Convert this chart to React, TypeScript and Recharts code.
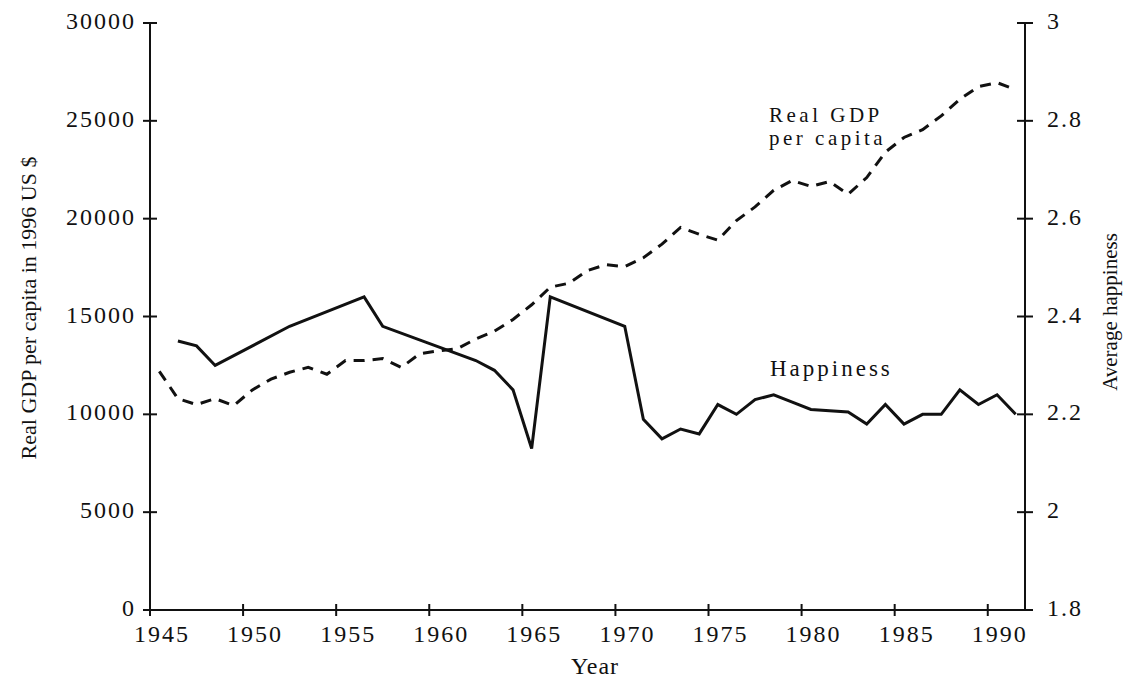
import React from 'react';
import { LineChart, Line, XAxis, YAxis, Customized } from 'recharts';

const years = [
  1945, 1946, 1947, 1948, 1949, 1950, 1951, 1952, 1953, 1954, 1955, 1956,
  1957, 1958, 1959, 1960, 1961, 1962, 1963, 1964, 1965, 1966, 1967, 1968,
  1969, 1970, 1971, 1972, 1973, 1974, 1975, 1976, 1977, 1978, 1979, 1980,
  1981, 1982, 1983, 1984, 1985, 1986, 1987, 1988, 1989, 1990, 1991,
];

// real GDP per capita, 1996 US $
const gdp = [
  12200, 10800, 10500, 10800, 10450, 11250, 11800, 12150, 12400, 12050, 12750, 12750,
  12850, 12400, 13100, 13250, 13350, 13850, 14250, 14850, 15600, 16500, 16700, 17350,
  17650, 17550, 18000, 18700, 19550, 19200, 18900, 19900, 20600, 21450, 21950, 21650,
  21900, 21250, 22100, 23400, 24150, 24550, 25250, 26100, 26750, 26950, 26600,
];

// average happiness (survey years only)
const happiness = [
  null, 2.35, 2.34, 2.3, null, null, null, 2.38, null, 2.41, null, 2.44,
  2.38, null, null, null, null, 2.31, 2.29, 2.25, 2.13, 2.44, null, null,
  null, 2.38, 2.19, 2.15, 2.17, 2.16, 2.22, 2.2, 2.23, 2.24, 2.225, 2.21,
  null, 2.205, 2.18, 2.22, 2.18, 2.2, 2.2, 2.25, 2.22, 2.24, 2.2,
];

const yearTicks = [1945, 1950, 1955, 1960, 1965, 1970, 1975, 1980, 1985, 1990];
const gdpTicks = [0, 5000, 10000, 15000, 20000, 25000, 30000];
const happinessTicks = [1.8, 2, 2.2, 2.4, 2.6, 2.8, 3];

// annual values are drawn at mid-year
const chartData = years.map((year, i) => ({
  x: year + 0.5,
  gdp: gdp[i],
  happiness: happiness[i],
}));

const SERIF = '"Liberation Serif", "Times New Roman", serif';
const INK = '#111';
const PLOT_LEFT = 150;
const PLOT_RIGHT = 1025;
const PLOT_BOTTOM = 610;

const LeftTick = ({ y, payload }: any) => (
  <g>
    <line x1={PLOT_LEFT - 7} x2={PLOT_LEFT + 7} y1={y} y2={y} stroke={INK} strokeWidth={2} />
    <text x={PLOT_LEFT - 14} y={y + 6} textAnchor="end" fontFamily={SERIF} fontSize={24} letterSpacing={2} fill={INK}>
      {payload.value}
    </text>
  </g>
);

const RightTick = ({ y, payload }: any) => (
  <g>
    <line x1={PLOT_RIGHT - 8} x2={PLOT_RIGHT + 8} y1={y} y2={y} stroke={INK} strokeWidth={2} />
    <text x={PLOT_RIGHT + 22} y={y + 6} textAnchor="start" fontFamily={SERIF} fontSize={24} letterSpacing={2} fill={INK}>
      {payload.value}
    </text>
  </g>
);

const BottomTick = ({ x, payload }: any) => (
  <g>
    <line x1={x} x2={x} y1={PLOT_BOTTOM - 6} y2={PLOT_BOTTOM + 6} stroke={INK} strokeWidth={2} />
    <text x={x + 12} y={PLOT_BOTTOM + 32} textAnchor="middle" fontFamily={SERIF} fontSize={24} letterSpacing={2} fill={INK}>
      {payload.value}
    </text>
  </g>
);

const Texts = () => (
  <g fontFamily={SERIF} fill={INK}>
    <text x={28} y={308} transform="rotate(-90 28 308)" textAnchor="middle" dominantBaseline="central" fontSize={22}>
      Real GDP per capita in 1996 US $
    </text>
    <text x={1110} y={312} transform="rotate(-90 1110 312)" textAnchor="middle" dominantBaseline="central" fontSize={21}>
      Average happiness
    </text>
    <text x={595} y={674} textAnchor="middle" fontSize={24} letterSpacing={1}>
      Year
    </text>
    <text x={769} y={122} fontSize={21} letterSpacing={3.5}>Real GDP</text>
    <text x={769} y={145} fontSize={21} letterSpacing={3.5}>per capita</text>
    <text x={770} y={376} fontSize={23} letterSpacing={3}>Happiness</text>
  </g>
);

const App: React.FC = () => (
  <div style={{ position: 'absolute', left: 0, top: 0, background: '#fff' }}>
    <LineChart width={1124} height={678} data={chartData} margin={{ top: 23, right: 0, bottom: 0, left: 0 }}>
      <XAxis
        dataKey="x"
        type="number"
        domain={[1945, 1992]}
        ticks={yearTicks}
        height={68}
        axisLine={{ stroke: INK, strokeWidth: 2 }}
        tickLine={false}
        tick={<BottomTick />}
      />
      <YAxis
        yAxisId="left"
        domain={[0, 30000]}
        ticks={gdpTicks}
        width={150}
        axisLine={{ stroke: INK, strokeWidth: 2 }}
        tickLine={false}
        tick={<LeftTick />}
      />
      <YAxis
        yAxisId="right"
        orientation="right"
        domain={[1.8, 3]}
        ticks={happinessTicks}
        width={99}
        axisLine={{ stroke: INK, strokeWidth: 2 }}
        tickLine={false}
        tick={<RightTick />}
      />
      <Line
        yAxisId="left"
        type="linear"
        dataKey="gdp"
        stroke={INK}
        strokeWidth={3}
        strokeDasharray="11 8"
        dot={false}
        isAnimationActive={false}
      />
      <Line
        yAxisId="right"
        type="linear"
        dataKey="happiness"
        stroke={INK}
        strokeWidth={3}
        dot={false}
        connectNulls
        isAnimationActive={false}
      />
      <Customized component={Texts} />
    </LineChart>
  </div>
);

export default App;
